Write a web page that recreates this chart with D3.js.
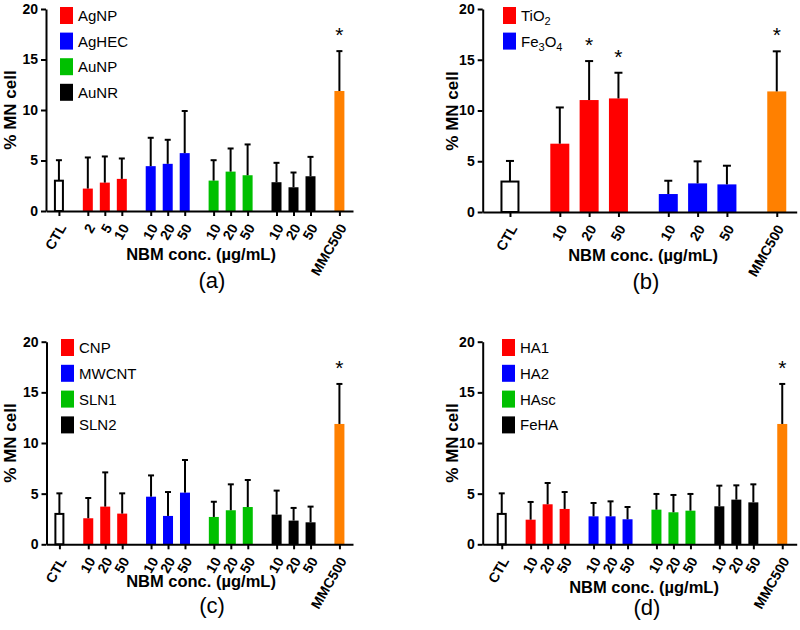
<!DOCTYPE html>
<html>
<head>
<meta charset="utf-8">
<script src="https://cdn.jsdelivr.net/npm/d3@7"></script>
<style>
  body { margin: 0; background: #fff; }
  svg text { font-family: "Liberation Sans", Arial, Helvetica, sans-serif; }
  .axis path, .axis line { stroke: #000; stroke-width: 2px; }
  .axis text { font-size: 14px; font-weight: bold; fill: #000; }
</style>
</head>
<body>
<div id="chart"></div>
<script>
// Shared controls
const ctlMean = 3.0, ctlSd = 2.03;
const mmcMean = 11.88, mmcSd = 3.95;
const yTicks = [0, 5, 10, 15, 20];
const colors = ["#ff0000", "#0000ff", "#00c000", "#000000"];
const mmcColor = "#ff8000";

// (a) metal nanoparticles
const groupsA = ["AgNP", "AgHEC", "AuNP", "AuNR"];
const dosesA = [["2", "5", "10"], ["10", "20", "50"], ["10", "20", "50"], ["10", "20", "50"]];
const meansA = [[2.22, 2.81, 3.18], [4.44, 4.67, 5.73], [3.01, 3.90, 3.54], [2.85, 2.35, 3.44]];
const sdA = [[3.08, 2.59, 2.02], [2.81, 2.38, 4.17], [2.02, 2.29, 3.05], [1.92, 1.46, 1.92]];
const starsA = [[false, false, false], [false, false, false], [false, false, false], [false, false, false]];

// (b) metal oxides ("_" marks a subscript digit)
const groupsB = ["TiO_2", "Fe_3O_4"];
const dosesB = [["10", "20", "50"], ["10", "20", "50"]];
const meansB = [[6.73, 11.03, 11.19], [1.77, 2.82, 2.72]];
const sdB = [[3.57, 3.84, 2.53], [1.31, 2.17, 1.84]];
const starsB = [[false, true, true], [false, false, false]];

// (c) carbon / lipid
const groupsC = ["CNP", "MWCNT", "SLN1", "SLN2"];
const dosesC = [["10", "20", "50"], ["10", "20", "50"], ["10", "20", "50"], ["10", "20", "50"]];
const meansC = [[2.57, 3.72, 3.03], [4.70, 2.80, 5.10], [2.70, 3.36, 3.68], [2.93, 2.34, 2.17]];
const sdC = [[2.00, 3.38, 2.00], [2.10, 2.36, 3.22], [1.50, 2.56, 2.67], [2.37, 1.25, 1.55]];
const starsC = [[false, false, false], [false, false, false], [false, false, false], [false, false, false]];

// (d) hydroxyapatites
const groupsD = ["HA1", "HA2", "HAsc", "FeHA"];
const dosesD = [["10", "20", "50"], ["10", "20", "50"], ["10", "20", "50"], ["10", "20", "50"]];
const meansD = [[2.43, 3.95, 3.49], [2.76, 2.76, 2.47], [3.42, 3.16, 3.32], [3.75, 4.41, 4.14]];
const sdD = [[1.75, 2.10, 1.67], [1.32, 1.48, 1.21], [1.55, 1.71, 1.65], [2.04, 1.41, 1.78]];
const starsD = [[false, false, false], [false, false, false], [false, false, false], [false, false, false]];

const svg = d3.select("#chart").append("svg")
    .attr("width", 800)
    .attr("height", 630);

// Legend labels; "_d" becomes a subscript digit
function legendLabel(sel, name) {
    const parts = name.split(/(_\d)/).filter(p => p.length);
    let sub = false;
    parts.forEach(function(p) {
        if (p[0] === "_") {
            sel.append("tspan").attr("font-size", "11px").attr("dy", 4).text(p.slice(1));
            sub = true;
        } else {
            const t = sel.append("tspan").text(p);
            if (sub) t.attr("dy", -4);
            sub = false;
        }
    });
}

function drawPanel(cfg) {
    const gap = 1.7;

    // Build slot list: CTL, dose groups, MMC500
    let slots = [{pos: 0, label: "CTL", mean: ctlMean, sd: ctlSd, color: "#fff", ctl: true, star: false}];
    let pos = 0;
    cfg.groups.forEach(function(g, i) {
        pos += gap;
        cfg.doses[i].forEach(function(dose, j) {
            slots.push({pos: pos + j, label: dose, mean: cfg.means[i][j], sd: cfg.sd[i][j],
                color: colors[i], ctl: false, star: cfg.stars[i][j]});
        });
        pos += cfg.doses[i].length - 1;
    });
    pos += gap;
    slots.push({pos: pos, label: "MMC500", mean: mmcMean, sd: mmcSd, color: mmcColor, ctl: false, star: true});

    const x = d3.scaleLinear().domain(cfg.xDomain).range([cfg.left, cfg.right]);
    const y = d3.scaleLinear().domain([0, 20]).range([cfg.bottom, cfg.top]);
    const bw = cfg.barWidth;

    const g = svg.append("g");

    // Bars
    g.selectAll(".bar")
        .data(slots)
        .enter().append("rect")
        .attr("class", "bar")
        .attr("x", d => x(d.pos) - bw / 2 + (d.ctl ? 1 : 0))
        .attr("width", d => bw - (d.ctl ? 2 : 0))
        .attr("y", d => y(d.mean))
        .attr("height", d => y(0) - y(d.mean))
        .attr("fill", d => d.color)
        .attr("stroke", d => d.ctl ? "#000" : "none")
        .attr("stroke-width", 2);

    // Error bars (upper only)
    g.selectAll(".err")
        .data(slots)
        .enter().append("line")
        .attr("x1", d => x(d.pos))
        .attr("x2", d => x(d.pos))
        .attr("y1", d => y(d.mean))
        .attr("y2", d => y(d.mean + d.sd))
        .attr("stroke", "#000")
        .attr("stroke-width", 2);
    g.selectAll(".cap")
        .data(slots)
        .enter().append("line")
        .attr("x1", d => x(d.pos) - cfg.cap)
        .attr("x2", d => x(d.pos) + cfg.cap)
        .attr("y1", d => y(d.mean + d.sd))
        .attr("y2", d => y(d.mean + d.sd))
        .attr("stroke", "#000")
        .attr("stroke-width", 2);

    // Significance marks
    g.selectAll(".star")
        .data(slots.filter(d => d.star))
        .enter().append("text")
        .attr("x", d => x(d.pos))
        .attr("y", d => y(d.mean + d.sd) - 9)
        .attr("text-anchor", "middle")
        .attr("font-size", "21px")
        .text("*");

    // Axes
    const yAxis = d3.axisLeft(y).tickValues(yTicks).tickSize(5).tickSizeOuter(0).tickPadding(3);
    g.append("g")
        .attr("class", "axis")
        .attr("transform", "translate(" + cfg.left + ",0)")
        .call(yAxis);

    const xAxis = d3.axisBottom(x)
        .tickValues(slots.map(d => d.pos))
        .tickFormat((v, i) => slots[i].label)
        .tickSize(5)
        .tickSizeOuter(0);
    const xg = g.append("g")
        .attr("class", "axis")
        .attr("transform", "translate(0," + cfg.bottom + ")")
        .call(xAxis);
    xg.selectAll(".tick text")
        .attr("text-anchor", "end")
        .attr("x", 0)
        .attr("y", 0)
        .attr("dy", "0.35em")
        .attr("transform", "translate(3,14) rotate(-60)");

    // Axis titles
    g.append("text")
        .attr("transform", "translate(" + cfg.yTitleX + "," + cfg.yTitleY + ") rotate(-90)")
        .attr("text-anchor", "middle")
        .attr("font-size", "17px")
        .attr("font-weight", "bold")
        .text("% MN cell");
    g.append("text")
        .attr("x", cfg.xTitleX)
        .attr("y", cfg.xTitleY)
        .attr("text-anchor", "middle")
        .attr("font-size", "16.5px")
        .attr("font-weight", "bold")
        .text("NBM conc. (µg/mL)");
    g.append("text")
        .attr("x", cfg.tagX)
        .attr("y", cfg.tagY)
        .attr("text-anchor", "middle")
        .attr("font-size", "22px")
        .text(cfg.tag);

    // Legend
    const leg = g.selectAll(".legend")
        .data(cfg.groups)
        .enter().append("g")
        .attr("transform", (d, i) => "translate(" + cfg.legX + "," + (cfg.legY + i * cfg.legStep) + ")");
    leg.append("rect")
        .attr("width", 13)
        .attr("height", 17)
        .attr("fill", (d, i) => colors[i]);
    leg.append("text")
        .attr("x", 18)
        .attr("y", 14)
        .attr("font-size", "15px")
        .each(function(d) { legendLabel(d3.select(this), d); });
}

drawPanel({groups: groupsA, doses: dosesA, means: meansA, sd: sdA, stars: starsA,
    left: 46, right: 353, top: 9, bottom: 211, xDomain: [-0.76, 17.3], barWidth: 10, cap: 3,
    yTitleX: 16, yTitleY: 110, xTitleX: 201, xTitleY: 260, tagX: 212, tagY: 288, tag: "(a)",
    legX: 60, legY: 7, legStep: 25.6});

drawPanel({groups: groupsB, doses: dosesB, means: meansB, sd: sdB, stars: starsB,
    left: 482.7, right: 796.7, top: 9, bottom: 212, xDomain: [-0.93, 9.78], barWidth: 19, cap: 4,
    yTitleX: 458, yTitleY: 111, xTitleX: 643, xTitleY: 261, tagX: 646, tagY: 289, tag: "(b)",
    legX: 503, legY: 7, legStep: 25.6});

drawPanel({groups: groupsC, doses: dosesC, means: meansC, sd: sdC, stars: starsC,
    left: 46.5, right: 353, top: 341.7, bottom: 544.3, xDomain: [-0.76, 17.3], barWidth: 10, cap: 3,
    yTitleX: 16, yTitleY: 443, xTitleX: 201, xTitleY: 587, tagX: 212, tagY: 613, tag: "(c)",
    legX: 61, legY: 339, legStep: 25.8});

drawPanel({groups: groupsD, doses: dosesD, means: meansD, sd: sdD, stars: starsD,
    left: 482.7, right: 796.7, top: 341.7, bottom: 544.3, xDomain: [-1.12, 17.35], barWidth: 10, cap: 3,
    yTitleX: 458, yTitleY: 443, xTitleX: 644, xTitleY: 593, tagX: 647, tagY: 615, tag: "(d)",
    legX: 502, legY: 339, legStep: 25.8});
</script>
</body>
</html>
